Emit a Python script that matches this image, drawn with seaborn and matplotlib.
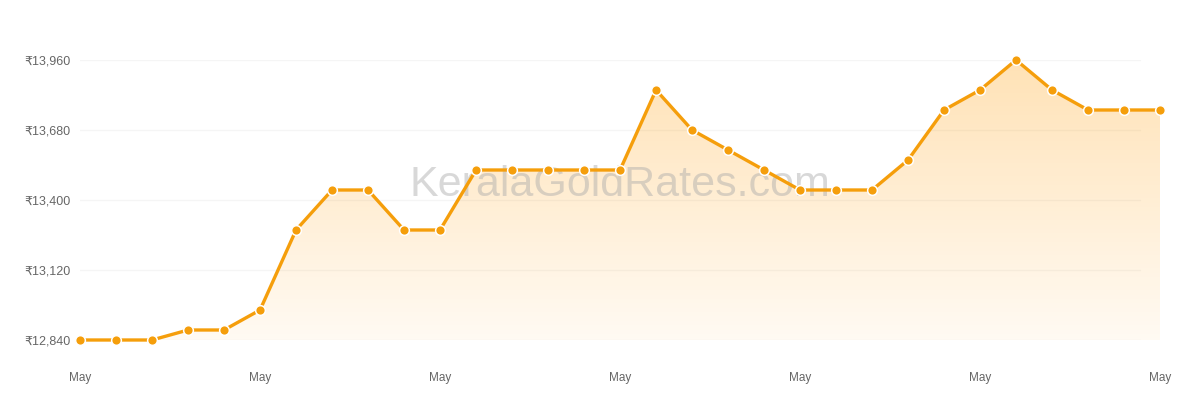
import numpy as np
import pandas as pd
import matplotlib
matplotlib.use("Agg")
import matplotlib.pyplot as plt
import seaborn as sns
from matplotlib.ticker import FuncFormatter

# 22K gold rate per gram (INR), daily
rates = [12840, 12840, 12840, 12880, 12880, 12960, 13280, 13440, 13440, 13280,
         13280, 13520, 13520, 13520, 13520, 13520, 13840, 13680, 13600, 13520,
         13440, 13440, 13440, 13560, 13760, 13840, 13960, 13840, 13760, 13760,
         13760]
day_idx = list(range(len(rates)))
tick_pos = [0, 5, 10, 15, 20, 25, 30]
tick_labels = ["May"] * len(tick_pos)
y_ticks = [12840, 13120, 13400, 13680, 13960]

LINE = "#F59E0B"

sns.set_theme(style="white")
plt.rcParams["font.family"] = ["Liberation Sans", "DejaVu Sans"]

df = pd.DataFrame({"day": day_idx, "rate": rates})

fig = plt.figure(figsize=(12, 4), dpi=100)
ax = fig.add_axes([0.0667, 0.15, 0.90, 0.70])

# gradient fill under the line
x = np.array(day_idx)
y = np.array(rates)
ymin, ymax = y_ticks[0], y_ticks[-1]
poly = ax.fill_between(x, y, ymin, color="none", lw=0)
grad = np.linspace(0, 1, 256).reshape(-1, 1)
cmap = matplotlib.colors.LinearSegmentedColormap.from_list(
    "g", [(1.0, 0.62, 0.04, 0.05), (1.0, 0.62, 0.04, 0.30)])
img = ax.imshow(grad, aspect="auto", cmap=cmap, origin="lower",
                extent=[x.min(), x.max(), ymin, ymax], zorder=1)
img.set_clip_path(poly.get_paths()[0], transform=ax.transData)

# watermark sits under the line
ax.text(0.5, 0.555, "KeralaGoldRates.com", transform=ax.transAxes,
        fontsize=31, color="#aaaaaa", alpha=0.45, ha="center", va="center",
        zorder=2)

sns.lineplot(data=df, x="day", y="rate", ax=ax, color=LINE, lw=2.4,
             marker="o", markersize=7, markerfacecolor=LINE,
             markeredgecolor="white", markeredgewidth=1.1, zorder=3,
             clip_on=False)

for t in y_ticks:
    ax.axhline(t, color="#f5f5f5", lw=1, zorder=0,
               xmin=0, xmax=(1140 - 80) / 1080)

ax.set_xlim(0, 30)
ax.set_ylim(ymin, ymax)
ax.set_xticks(tick_pos)
ax.set_xticklabels(tick_labels)
ax.set_yticks(y_ticks)
ax.yaxis.set_major_formatter(FuncFormatter(lambda v, p: f"\u20b9{int(v):,}"))
ax.tick_params(axis="y", labelsize=9, labelcolor="#666666", length=0, pad=7)
ax.tick_params(axis="x", labelsize=8.5, labelcolor="#666666", length=0, pad=23)
ax.set_xlabel("")
ax.set_ylabel("")
for s in ax.spines.values():
    s.set_visible(False)
ax.patch.set_alpha(0)

fig.savefig("out.png", dpi=100)
